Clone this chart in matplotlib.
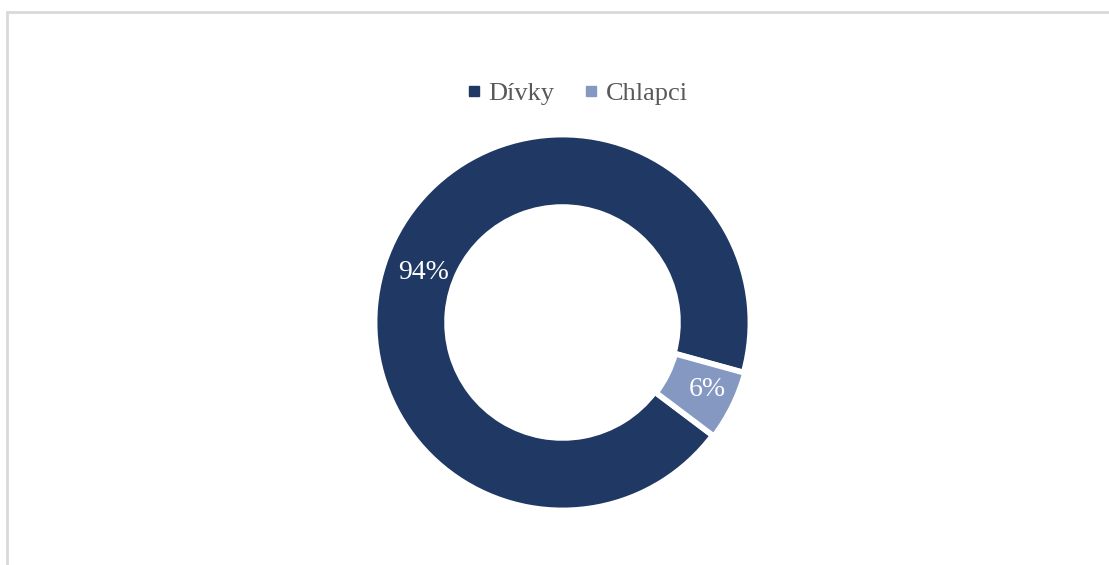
import matplotlib.pyplot as plt
from matplotlib.patches import Rectangle
from matplotlib.lines import Line2D

labels = ['Dívky', 'Chlapci']
values = [94, 6]
colors = ['#203864', '#8498C2']

plt.rcParams['font.family'] = ['Liberation Serif', 'DejaVu Serif']

fig = plt.figure(figsize=(11.09, 5.65), dpi=100)
fig.patch.set_facecolor('white')

# light grey frame of the chart area
fig.add_artist(Rectangle((7 / 1109, -0.05), 1.2, 1 - 11.5 / 565 + 0.05,
                         transform=fig.transFigure, fill=False,
                         edgecolor='#d9d9d9', linewidth=2))

# donut: center (562, 322), outer radius ~186 px
r = 186
cx, cy = 562.5, 565 - 322.5
ax = fig.add_axes([(cx - r) / 1109, (cy - r) / 565, 2 * r / 1109, 2 * r / 565])
wedges, texts = ax.pie(values, colors=colors, startangle=-37, counterclock=False,
                       explode=[0, 0.008], radius=1.01,
                       wedgeprops=dict(width=0.389, edgecolor='white', linewidth=4))
ax.set_aspect('equal')
ax.set_xlim(-1.0, 1.0)
ax.set_ylim(-1.0, 1.0)

# percentage labels
ax.text(-0.745, 0.27, '94%', color='white', fontsize=20, ha='center', va='center')
ax.text(0.78, -0.36, '6%', color='white', fontsize=20, ha='center', va='center')

handles = [Line2D([], [], marker='s', linestyle='', markersize=7,
                  markerfacecolor=c, markeredgecolor=c) for c in colors]
fig.legend(handles, labels, loc='center', bbox_to_anchor=(574 / 1109, 1 - 93 / 565),
           ncol=2, frameon=False, fontsize=19, labelcolor='#595959',
           handletextpad=0.05, columnspacing=0.9, handlelength=1.0)

fig.savefig('out.png', dpi=100)
